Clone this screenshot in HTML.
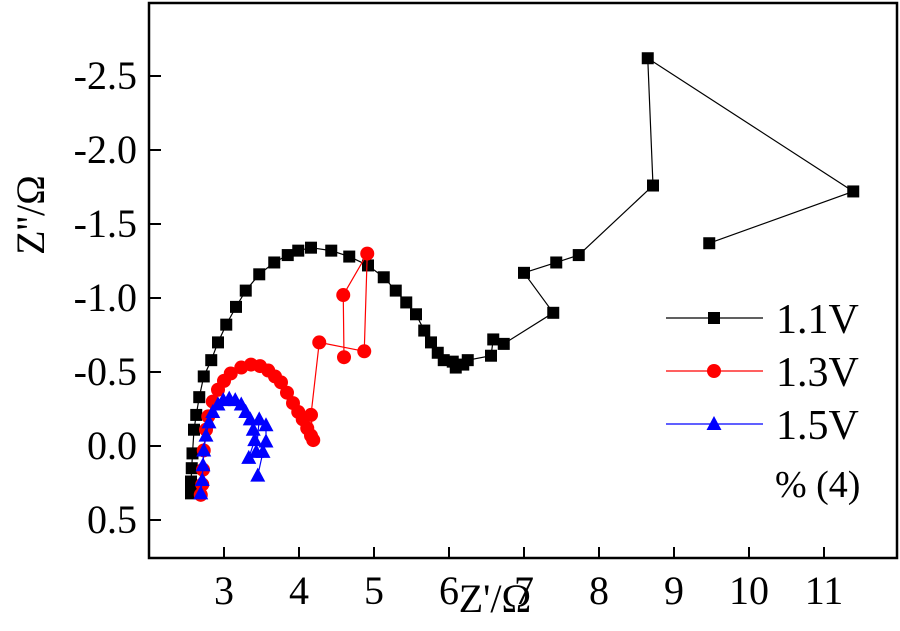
<!DOCTYPE html>
<html><head><meta charset="utf-8"><style>
html,body{margin:0;padding:0;background:#fff}
svg{display:block;font-family:"Liberation Serif",serif}
</style></head><body>
<svg id="chart" width="900" height="631" viewBox="0 0 900 631"></svg>
<script>
const xTicks=[3,4,5,6,7,8,9,10,11];
const yTicks=[-2.5,-2.0,-1.5,-1.0,-0.5,0.0,0.5];
const yTickLabels=["-2.5","-2.0","-1.5","-1.0","-0.5","0.0","0.5"];
const seriesNames=["1.1V","1.3V","1.5V"];
const s11x=[2.56,2.56,2.57,2.58,2.60,2.63,2.67,2.73,2.83,2.92,3.03,3.16,3.29,3.47,3.67,3.85,3.99,4.16,4.43,4.67,4.92,5.13,5.29,5.43,5.56,5.67,5.76,5.85,5.93,6.05,6.09,6.19,6.25,6.56,6.59,6.73,7.39,7.00,7.43,7.73,8.72,8.65,11.39,9.47];
const s11y=[0.32,0.24,0.15,0.05,-0.11,-0.21,-0.33,-0.47,-0.58,-0.70,-0.82,-0.94,-1.05,-1.16,-1.24,-1.29,-1.32,-1.34,-1.32,-1.28,-1.22,-1.14,-1.05,-0.97,-0.89,-0.78,-0.70,-0.63,-0.58,-0.57,-0.53,-0.55,-0.58,-0.61,-0.72,-0.69,-0.90,-1.17,-1.24,-1.29,-1.76,-2.62,-1.72,-1.37];
const s13x=[2.69,2.71,2.72,2.73,2.76,2.79,2.85,2.92,3.00,3.09,3.23,3.36,3.48,3.59,3.68,3.76,3.84,3.92,3.99,4.05,4.11,4.16,4.19,4.16,4.27,4.87,4.91,4.59,4.60];
const s13y=[0.33,0.26,0.16,0.03,-0.11,-0.20,-0.30,-0.38,-0.44,-0.49,-0.53,-0.55,-0.54,-0.51,-0.47,-0.43,-0.36,-0.29,-0.23,-0.18,-0.12,-0.07,-0.04,-0.21,-0.70,-0.64,-1.30,-1.02,-0.60];
const s15x=[2.69,2.71,2.72,2.73,2.76,2.80,2.85,2.92,2.99,3.07,3.15,3.23,3.29,3.35,3.39,3.41,3.33,3.43,3.47,3.56,3.56,3.52,3.45];
const s15y=[0.32,0.23,0.13,0.03,-0.07,-0.16,-0.23,-0.28,-0.31,-0.32,-0.31,-0.28,-0.23,-0.18,-0.11,-0.04,0.08,0.04,-0.18,-0.14,-0.03,0.04,0.20];

const L=149,R=897,T=3,B=558;
const X=v=>L+(v-2)*75;
const Y=v=>446+v*148;
const svg=document.getElementById('chart');
const NS="http://www.w3.org/2000/svg";
function mk(tag,attrs,parent){const e=document.createElementNS(NS,tag);for(const k in attrs)e.setAttribute(k,attrs[k]);(parent||svg).appendChild(e);return e;}

const frame=mk('rect',{x:L,y:T,width:R-L,height:B-T,fill:'none',stroke:'#000','stroke-width':2.5});



xTicks.forEach(t=>{
  const ln=mk('line',{x1:X(t),x2:X(t),y1:B,y2:B-11,stroke:'#000','stroke-width':2});
  
  
  const tx=mk('text',{x:X(t),y:604,'text-anchor':'middle','font-size':40});
  tx.textContent=t;
  
  
});
yTicks.forEach((t,i)=>{
  const ln=mk('line',{x1:L,x2:L+12,y1:Y(t),y2:Y(t),stroke:'#000','stroke-width':2});
  
  
  const tx=mk('text',{x:137,y:Y(t)+13,'text-anchor':'end','font-size':40});
  tx.textContent=yTickLabels[i];
  
  
});

const xt=mk('text',{x:495,y:612,'text-anchor':'middle','font-size':40});
xt.textContent="Z'/Ω";


const yt=mk('text',{x:0,y:0,'text-anchor':'middle','font-size':40,transform:'translate(44,215) rotate(-90)'});
yt.textContent="Z''/Ω";



function marker(shape,cx,cy,color,g){
  if(shape==='sq') return mk('rect',{x:cx-6,y:cy-6,width:12,height:12,fill:color},g);
  if(shape==='ci') return mk('circle',{cx:cx,cy:cy,r:7,fill:color},g);
  return mk('polygon',{points:`${cx},${cy-8} ${cx-7.5},${cy+6} ${cx+7.5},${cy+6}`,fill:color},g);
}
function series(xs,ys,color,shape,name){
  const g=mk('g',{});
  
  
  const pl=mk('polyline',{points:xs.map((x,i)=>X(x)+','+Y(ys[i])).join(' '),fill:'none',stroke:color,'stroke-width':1.2},g);
  
  
  xs.forEach((x,i)=>{
    const m=marker(shape,X(x),Y(ys[i]),color,g);
    
    
  });
}
series(s11x,s11y,'#000','sq','1-1v');
series(s13x,s13y,'#f00','ci','1-3v');
series(s15x,s15y,'#00f','tr','1-5v');

const legendColors=['#000','#f00','#00f'];
const legendShapes=['sq','ci','tr'];
const legendY=[318,371,424];
seriesNames.forEach((n,i)=>{
  const g=mk('g',{});
  
  
  mk('line',{x1:666,x2:763,y1:legendY[i],y2:legendY[i],stroke:legendColors[i],'stroke-width':1.2},g);
  marker(legendShapes[i],714,legendY[i],legendColors[i],g);
  const t=mk('text',{x:776,y:legendY[i]+15,'font-size':42},g);
  t.textContent=n;
});
const note=mk('text',{x:775,y:497,'font-size':38});
note.textContent="% (4)";


</script>
</body></html>
